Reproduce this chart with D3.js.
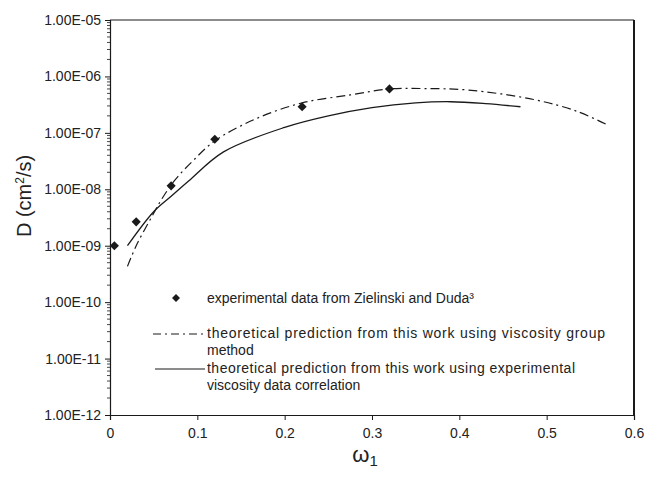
<!DOCTYPE html>
<html><head><meta charset="utf-8">
<script src="https://cdn.jsdelivr.net/npm/d3@7"></script>
<style>body{margin:0;background:#fff}svg{display:block}text{font-family:"Liberation Sans",Arial,sans-serif;fill:#222}</style>
</head><body><svg id="c" width="645" height="483"></svg>
<script>
// ---- data ----
const expX = [0.005, 0.03, 0.07, 0.12, 0.22, 0.32];
const expY = [1.0e-9, 2.65e-9, 1.15e-8, 7.7e-8, 2.9e-7, 6.0e-7];
const groupX = [0.02, 0.03, 0.048, 0.06, 0.075, 0.095, 0.12, 0.168, 0.22, 0.275, 0.32, 0.36, 0.41, 0.485, 0.535, 0.57];
const groupY = [4.3e-10, 1.0e-9, 3.3e-9, 7.0e-9, 1.5e-8, 3.2e-8, 7.2e-8, 1.8e-7, 3.4e-7, 4.7e-7, 6.0e-7, 6.1e-7, 5.75e-7, 3.9e-7, 2.4e-7, 1.37e-7];
const corrX = [0.02, 0.05, 0.07, 0.09, 0.13, 0.2, 0.25, 0.3, 0.35, 0.39, 0.43, 0.47];
const corrY = [1.0e-9, 4.0e-9, 7.5e-9, 1.4e-8, 4.6e-8, 1.25e-7, 2.0e-7, 2.8e-7, 3.4e-7, 3.56e-7, 3.3e-7, 2.9e-7];
const xTicks = [0, 0.1, 0.2, 0.3, 0.4, 0.5, 0.6];
const xTickLabels = ["0", "0.1", "0.2", "0.3", "0.4", "0.5", "0.6"];
const yTicks = [1e-12, 1e-11, 1e-10, 1e-9, 1e-8, 1e-7, 1e-6, 1e-5];
const yTickLabels = ["1.00E-12", "1.00E-11", "1.00E-10", "1.00E-09", "1.00E-08", "1.00E-07", "1.00E-06", "1.00E-05"];
const legendLabels = [
  ["experimental data from Zielinski and Duda\u00B3"],
  ["theoretical prediction from this work using viscosity group", "method"],
  ["theoretical prediction from this work using experimental", "viscosity data correlation"]
];

const svg = d3.select("#c");
const L = 110, R = 634, T = 20, B = 415;
const x = d3.scaleLinear().domain([0, 0.6]).range([L, R]);
const y = d3.scaleLog().domain([1e-12, 1e-5]).range([B, T]);
const ink = "#1a1a1a";

// x axis
const xa = svg.append("g").attr("transform", `translate(0,${B})`)
  .call(d3.axisBottom(x).tickValues(xTicks).tickSize(5).tickPadding(8)
    .tickFormat((d, i) => xTickLabels[i]));
xa.selectAll("text").style("font-size", "14px");
// y axis
const ya = svg.append("g").attr("transform", `translate(${L},0)`)
  .call(d3.axisLeft(y).tickValues(yTicks).tickSize(5).tickPadding(4)
    .tickFormat((d, i) => yTickLabels[i]));
ya.selectAll("text").style("font-size", "14px");
[xa, ya].forEach(a => { a.select(".domain").attr("stroke", ink).attr("stroke-width", 1.2); a.selectAll("line").attr("stroke", ink); });
// minor ticks
const minors = [];
for (let e = -12; e < -5; e++) for (let m = 2; m <= 9; m++) minors.push(m * Math.pow(10, e));
svg.append("g").selectAll("line").data(minors).join("line")
  .attr("x1", L - 3).attr("x2", L).attr("y1", d => y(d)).attr("y2", d => y(d))
  .attr("stroke", ink).attr("stroke-width", 0.8);
// frame top & right
svg.append("line").attr("x1", L).attr("x2", R).attr("y1", T).attr("y2", T).attr("stroke", ink).attr("stroke-width", 1);
svg.append("line").attr("x1", R).attr("x2", R).attr("y1", T).attr("y2", B).attr("stroke", ink).attr("stroke-width", 2);

// titles
svg.append("text").attr("transform", `translate(31,196) rotate(-90)`).attr("text-anchor", "middle")
  .style("font-size", "20px").html('D (cm<tspan baseline-shift="super" font-size="12px">2</tspan>/s)');
svg.append("text").attr("x", 365).attr("y", 462).attr("text-anchor", "middle").style("font-size", "22px")
  .html('\u03C9<tspan font-size="15px" dy="4">1</tspan>');

// lines
const line = d3.line().x(d => x(d[0])).y(d => y(d[1])).curve(d3.curveCatmullRom);
svg.append("path").datum(groupX.map((v, i) => [v, groupY[i]])).attr("d", line)
  .attr("fill", "none").attr("stroke", ink).attr("stroke-width", 1.2).attr("stroke-dasharray", "9,4,2,4");
svg.append("path").datum(corrX.map((v, i) => [v, corrY[i]])).attr("d", line)
  .attr("fill", "none").attr("stroke", ink).attr("stroke-width", 1.3);
// markers
const dia = d3.symbol(d3.symbolSquare, 42);
svg.append("g").selectAll("path").data(expX.map((v, i) => [v, expY[i]])).join("path")
  .attr("d", dia).attr("transform", d => `translate(${x(d[0])},${y(d[1])}) rotate(45)`).attr("fill", ink);

// legend
const lg = svg.append("g");
lg.append("path").attr("d", d3.symbol(d3.symbolSquare, 32)).attr("transform", "translate(176,298) rotate(45)").attr("fill", ink);
lg.append("line").attr("x1", 153).attr("x2", 205).attr("y1", 334).attr("y2", 334).attr("stroke", ink).attr("stroke-width", 1.2).attr("stroke-dasharray", "8,4,2,4");
lg.append("line").attr("x1", 155).attr("x2", 205).attr("y1", 369).attr("y2", 369).attr("stroke", ink).attr("stroke-width", 1.2);
const lt = [[207, 303, null], [207, 338, 398], [207, 373, 368]];
legendLabels.forEach((lines, i) => {
  lines.forEach((s, j) => {
    const t = lg.append("text").attr("x", lt[i][0]).attr("y", lt[i][1] + j * 17).style("font-size", "14px").text(s);
    if (j === 0 && lt[i][2]) t.attr("textLength", lt[i][2]).attr("lengthAdjust", "spacing");
  });
});
</script></body></html>
